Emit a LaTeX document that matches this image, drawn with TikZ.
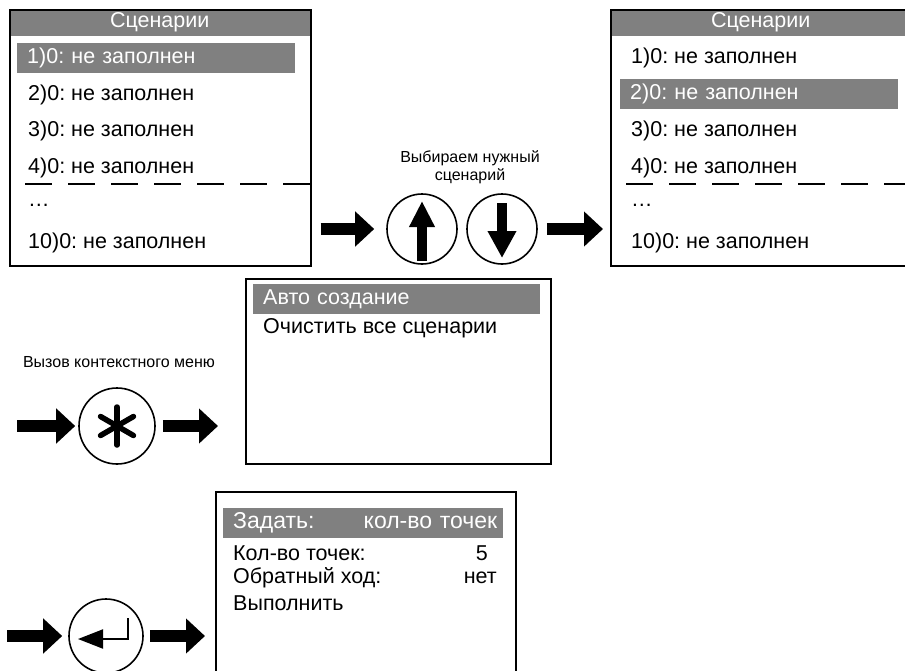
\documentclass[tikz,border=0pt]{standalone}
\usepackage{fontspec}
\setmainfont{Liberation Sans}
\usetikzlibrary{arrows.meta,positioning,calc}
\definecolor{screengray}{RGB}{128,128,128}
\frenchspacing

\begin{document}
\begin{tikzpicture}[x=1pt, y=-1pt, font=\fontsize{21.5}{26}\selectfont,
    frame/.style={rectangle, draw, line width=1.6pt, anchor=north west, inner sep=0pt},
    title/.style={rectangle, fill=screengray, text=white, anchor=north west, minimum height=27pt, inner sep=0pt},
    pick/.style={rectangle, fill=screengray, text=white, anchor=west, minimum height=30pt, inner xsep=10pt, inner ysep=0pt, align=left},
    item/.style={anchor=west, inner sep=0pt},
    hint/.style={font=\fontsize{16}{18.5}\selectfont, align=center},
    key/.style={circle, draw, line width=1.6pt, minimum size=70pt, inner sep=0pt},
    fat/.style={line width=12pt, -{Triangle[length=19pt,width=34pt]}},
    cut/.style={line width=1.6pt, dash pattern=on 27pt off 16pt, dash phase=27pt}]

    \useasboundingbox (0,0) rectangle (905,670);
    \clip (0,0) rectangle (905,670);

    % list before selection
    \node [title, minimum width=301pt] (headA) at (9,9) {Сценарии};
    \node [frame, minimum width=301pt, minimum height=256pt] (listA) at (9,9) {};
    \node [pick, text width=258pt] (a1) at (17,58) {1)0: не заполнен};
    \node [item] (a2) at (28,95) {2)0: не заполнен};
    \node [item] (a3) at (28,131) {3)0: не заполнен};
    \node [item] (a4) at (28,168) {4)0: не заполнен};
    \node [item] (a5) at (28,205) {\dots};
    \node [item] (a10) at (28,243) {10)0: не заполнен};
    \draw [cut] (9,184) -- (310,184);

    % list after selection
    \node [title, minimum width=301pt] (headB) at (610,9) {Сценарии};
    \node [frame, minimum width=301pt, minimum height=256pt] (listB) at (610,9) {};
    \node [item] (b1) at (631,58) {1)0: не заполнен};
    \node [pick, text width=258pt] (b2) at (620,94) {2)0: не заполнен};
    \node [item] (b3) at (631,131) {3)0: не заполнен};
    \node [item] (b4) at (631,168) {4)0: не заполнен};
    \node [item] (b5) at (631,205) {\dots};
    \node [item] (b10) at (631,243) {10)0: не заполнен};
    \draw [cut] (610,184) -- (911,184);

    % up / down keys
    \node [hint] (pickhint) at (470,167) {Выбираем нужный\\сценарий};
    \node [key] (up) at (422,229) {};
    \node [key] (down) at (502,229) {};
    \draw [line width=10pt, -{Triangle[length=26pt,width=24pt]}] ($(up)+(0,32)$) -- ($(up)+(0,-28)$);
    \draw [line width=10pt, -{Triangle[length=27pt,width=27pt]}] ($(down)+(0,-26)$) -- ($(down)+(0,29)$);
    \draw [fat, shorten <=9pt, shorten >=12pt] (listA.east |- up) -- (up.west);
    \draw [fat, shorten <=9pt, shorten >=7pt] (down.east) -- (listB.west |- down);

    % context menu
    \node [hint] (menuhint) at (119,362) {Вызов контекстного меню};
    \node [key, minimum size=76pt] (star) at (117,426) {};
    \foreach \a in {90,30,150}
        \draw [line width=5.5pt, line cap=round] (star) ++(\a:19) -- ++(\a+180:38);
    \coordinate (starin) at (17,426);
    \node [frame, minimum width=305pt, minimum height=185pt] (menu) at (245,278) {};
    \node [pick, text width=267pt] (m1) at (253,299) {Авто создание};
    \node [item] (m2) at (263,328) {Очистить все сценарии};
    \draw [fat, shorten >=3pt] (starin) -- (star.west);
    \draw [fat, shorten <=7pt, shorten >=27pt] (star.east) -- (menu.west |- star);

    % auto creation setup
    \node [key, minimum size=74pt] (enter) at (106,636) {};
    \draw [line width=2pt, -{Triangle[length=25pt,width=19pt]}] ($(enter)+(22,-18)$) -- ($(enter)+(22,3)$) -- ($(enter)+(-28,3)$);
    \coordinate (enterin) at (7,636);
    \node [frame, minimum width=300pt, minimum height=200pt] (setup) at (215,491) {};
    \node [pick, text width=260pt, font=\fontsize{23}{26}\selectfont] (s0) at (223,523) {Задать:\hfill кол-во точек\hspace*{-4pt}};
    \node [item] (s1) at (233,553) {Кол-во точек:};
    \node [anchor=east, inner sep=0pt] (s1val) at (488,553) {5};
    \node [item] (s2) at (233,578) {Обратный ход:};
    \node [anchor=east, inner sep=0pt] (s2val) at (497,578) {нет};
    \node [item] (s3) at (233,603) {Выполнить};
    \draw [fat, shorten >=6pt] (enterin) -- (enter.west);
    \draw [fat, shorten <=6pt, shorten >=10pt] (enter.east) -- (setup.west |- enter);
\end{tikzpicture}
\end{document}
